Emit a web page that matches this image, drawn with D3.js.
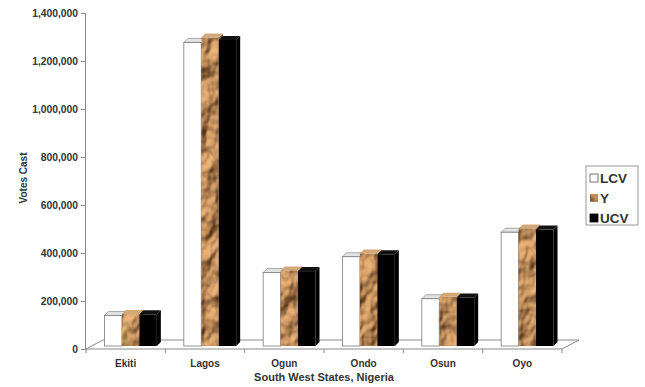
<!DOCTYPE html>
<html>
<head>
<meta charset="utf-8">
<script src="https://cdn.jsdelivr.net/npm/d3@7/dist/d3.min.js"></script>
<style>
  html, body { margin: 0; padding: 0; background: #fff; }
  svg { display: block; }
  text { font-family: "Liberation Sans", Arial, sans-serif; font-weight: bold; fill: #333; }
</style>
</head>
<body>
<svg id="chart" width="645" height="387"></svg>
<script>
// Votes cast per South West state
const categories = ["Ekiti", "Lagos", "Ogun", "Ondo", "Osun", "Oyo"];
const seriesNames = ["LCV", "Y", "UCV"];
const lcv = [127000, 1265000, 306000, 372000, 197000, 474000];
const yVals = [133000, 1285000, 315000, 385000, 205000, 490000];
const ucv = [132000, 1275000, 312000, 382000, 202000, 485000];
const yTicks = [0, 200000, 400000, 600000, 800000, 1000000, 1200000, 1400000];

const svg = d3.select("#chart");
const W = 645, H = 387;
svg.append("rect").attr("width", W).attr("height", H).attr("fill", "#fff");

// textured fill for the middle series (crumpled brown paper look)
const defs = svg.append("defs");
const f = defs.append("filter").attr("id", "crumple")
  .attr("x", 0).attr("y", 0).attr("width", 1).attr("height", 1)
  .attr("filterUnits", "objectBoundingBox")
  .attr("color-interpolation-filters", "sRGB");
f.append("feTurbulence").attr("type", "fractalNoise")
  .attr("baseFrequency", "0.055 0.04").attr("numOctaves", 3).attr("seed", 7).attr("result", "n");
f.append("feDiffuseLighting").attr("in", "n").attr("surfaceScale", 6)
  .attr("lighting-color", "#ffffff").attr("result", "lit")
  .append("feDistantLight").attr("azimuth", 235).attr("elevation", 46);
f.append("feColorMatrix").attr("in", "lit").attr("type", "matrix")
  .attr("values", "0.75 0 0 0 0.2  0 0.62 0 0 0.1  0 0 0.46 0 0.02  0 0 0 0 1").attr("result", "tint");
f.append("feComposite").attr("in", "tint").attr("in2", "SourceGraphic").attr("operator", "in");

// plot geometry
const x0 = 86, x1 = 562;          // front edge of the floor
const depthX = 17, depthY = 9;    // floor depth projection
const barShiftX = 5, barShiftY = 3; // bars sit a little behind the front edge
const faceX = 4, faceY = 4;       // bar depth (top / side faces)

const x = d3.scaleBand().domain(categories).range([x0, x1]).paddingInner(0).paddingOuter(0);
const y = d3.scaleLinear().domain([0, 1400000]).range([349, 13]);
const groupW = x.bandwidth() * 0.66;
const xs = d3.scaleBand().domain(seriesNames).range([0, groupW]);

// floor
const floorY = y(0);
svg.append("path")
  .attr("d", `M${x0},${floorY} L${x0 + depthX},${floorY - depthY} L${x1 + depthX},${floorY - depthY} L${x1},${floorY} Z`)
  .attr("fill", "#fff").attr("stroke", "#8a8a8a").attr("stroke-width", 1);

// value axis
const yAxis = d3.axisLeft(y).tickValues(yTicks).tickSize(4).tickPadding(3)
  .tickFormat(d3.format(","));
const gy = svg.append("g").attr("transform", `translate(${x0 - 1},0)`).call(yAxis);
gy.select(".domain").attr("stroke", "#8a8a8a");
gy.selectAll(".tick line").attr("stroke", "#8a8a8a");
gy.selectAll(".tick text").attr("font-size", 10.3).attr("fill", "#333")
  .attr("font-family", "Liberation Sans, Arial, sans-serif").attr("font-weight", "bold");

// category axis along the front edge of the floor
const xAxis = d3.axisBottom(x).tickSize(0).tickPadding(11);
const gx = svg.append("g").attr("transform", `translate(0,${floorY})`).call(xAxis);
gx.select(".domain").remove();
gx.selectAll(".tick text").attr("font-size", 10).attr("fill", "#333")
  .attr("font-family", "Liberation Sans, Arial, sans-serif").attr("font-weight", "bold");
// category separators
const seps = d3.range(categories.length + 1).map(i => x0 + i * x.step());
svg.append("g").selectAll("line").data(seps).join("line")
  .attr("x1", d => d).attr("x2", d => d)
  .attr("y1", floorY).attr("y2", floorY + 4)
  .attr("stroke", "#8a8a8a");

// bars
const rows = categories.map((c, i) => ({ cat: c, vals: [lcv[i], yVals[i], ucv[i]] }));
const styles = {
  LCV: { front: "#fff", top: "#e3e3e3", side: "#d0d0d0", stroke: "#7a7a7a" },
  Y:   { front: "#b07c4c", top: "#d2a878", side: "#8c6a44", stroke: "none" },
  UCV: { front: "#000", top: "#111", side: "#000", stroke: "none" }
};
const base = y(0) - barShiftY;

const g = svg.append("g");
rows.forEach(r => {
  const gx0 = x(r.cat) + (x.bandwidth() - groupW) / 2 + barShiftX;
  seriesNames.forEach((s, si) => {
    const v = r.vals[si];
    const bx = gx0 + xs(s), bw = xs.bandwidth();
    const top = y(v) - barShiftY;
    const st = styles[s];
    // side face
    g.append("path")
      .attr("d", `M${bx + bw},${top} L${bx + bw + faceX},${top - faceY} L${bx + bw + faceX},${base - faceY} L${bx + bw},${base} Z`)
      .attr("fill", st.side).attr("stroke", st.stroke).attr("stroke-width", 0.6)
      .attr("filter", s === "Y" ? "url(#crumple)" : null);
    // top face
    g.append("path")
      .attr("d", `M${bx},${top} L${bx + faceX},${top - faceY} L${bx + bw + faceX},${top - faceY} L${bx + bw},${top} Z`)
      .attr("fill", st.top).attr("stroke", st.stroke).attr("stroke-width", 0.6);
    // front face
    g.append("rect")
      .attr("x", bx).attr("y", top).attr("width", bw).attr("height", base - top)
      .attr("fill", st.front).attr("stroke", st.stroke).attr("stroke-width", 0.8)
      .attr("filter", s === "Y" ? "url(#crumple)" : null);
  });
});

// axis titles
svg.append("text")
  .attr("transform", "translate(27,178) rotate(-90)")
  .attr("text-anchor", "middle").attr("font-size", 10).text("Votes Cast");
svg.append("text")
  .attr("x", 324).attr("y", 381)
  .attr("text-anchor", "middle").attr("font-size", 11).text("South West States, Nigeria");

// legend
const lg = svg.append("g").attr("transform", "translate(586,166)");
lg.append("rect").attr("width", 52).attr("height", 59)
  .attr("fill", "#fff").attr("stroke", "#999").attr("stroke-width", 1);
seriesNames.forEach((s, i) => {
  const row = lg.append("g").attr("transform", `translate(4,${12 + i * 20})`);
  row.append("rect").attr("x", 0).attr("y", -4).attr("width", 8).attr("height", 8)
    .attr("fill", styles[s].front)
    .attr("stroke", s === "LCV" ? "#555" : (s === "Y" ? "#8c6a44" : "#000")).attr("stroke-width", 0.8)
    .attr("filter", s === "Y" ? "url(#crumple)" : null);
  row.append("text").attr("x", 10).attr("y", 5).attr("font-size", 13.5)
    .attr("fill", "#111").text(s);
});
</script>
</body>
</html>
